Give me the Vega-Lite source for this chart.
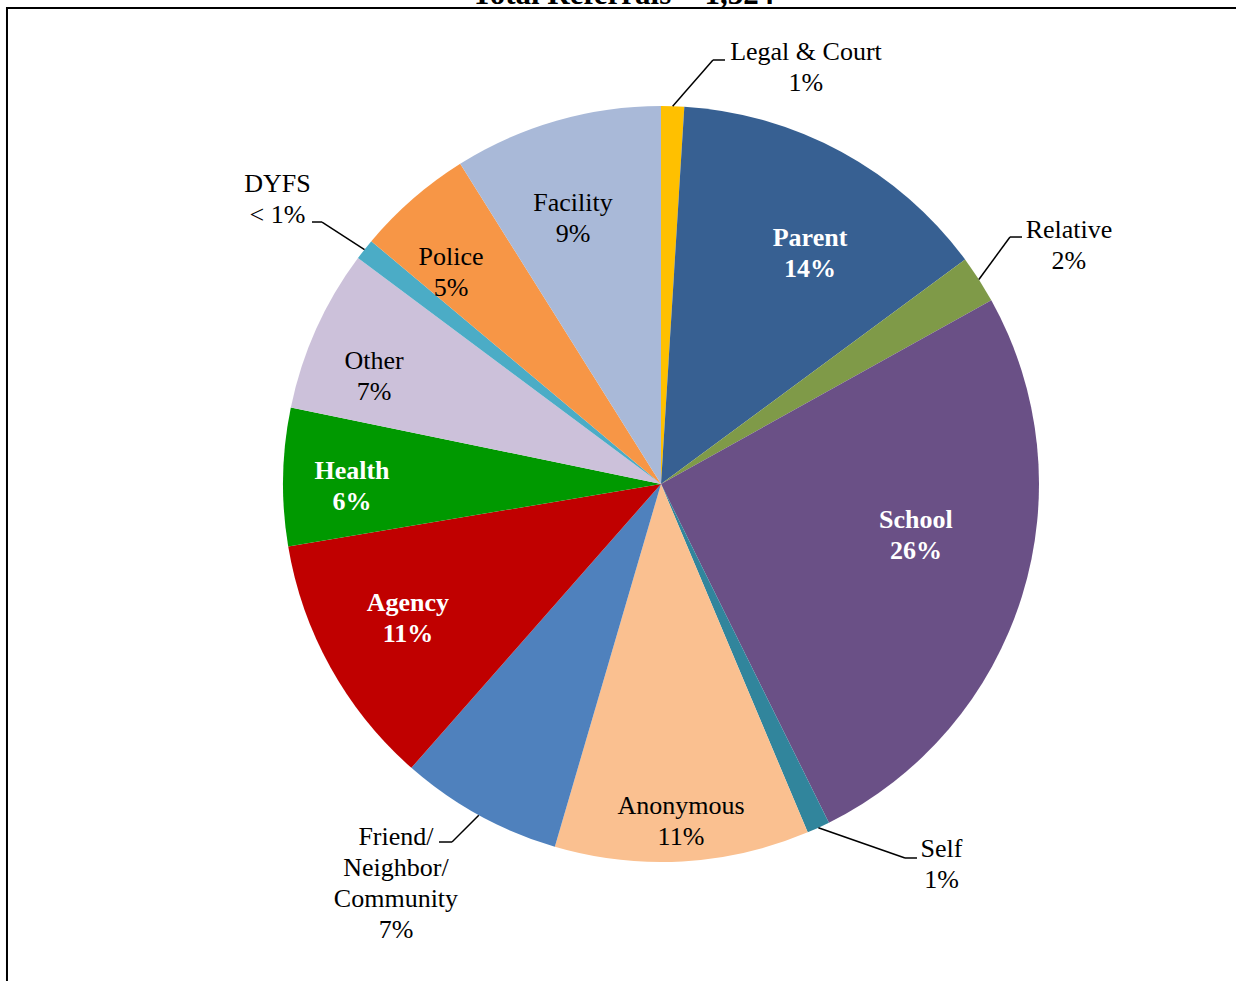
{
  "$schema": "https://vega.github.io/schema/vega-lite/v6.json",
  "width": 756,
  "height": 756,
  "autosize": {"type": "none"},
  "padding": {"left": 283, "top": 106, "right": 197, "bottom": 119},
  "background": "white",
  "config": {"view": {"stroke": null}},
  "layer": [
    {
      "data": {
        "values": [
          {"source": "Legal & Court", "count": 13, "pct": "1%"},
          {"source": "Parent", "count": 184, "pct": "14%"},
          {"source": "Relative", "count": 27, "pct": "2%"},
          {"source": "School", "count": 341, "pct": "26%"},
          {"source": "Self", "count": 13, "pct": "1%"},
          {"source": "Anonymous", "count": 144, "pct": "11%"},
          {"source": "Friend/Neighbor/Community", "count": 92, "pct": "7%"},
          {"source": "Agency", "count": 144, "pct": "11%"},
          {"source": "Health", "count": 78, "pct": "6%"},
          {"source": "Other", "count": 92, "pct": "7%"},
          {"source": "DYFS", "count": 12, "pct": "< 1%"},
          {"source": "Police", "count": 66, "pct": "5%"},
          {"source": "Facility", "count": 118, "pct": "9%"}
        ]
      },
      "transform": [
        {"window": [{"op": "row_number", "as": "idx"}]},
        {"joinaggregate": [{"op": "sum", "field": "count", "as": "total"}]},
        {"window": [{"op": "sum", "field": "count", "as": "cum"}], "sort": [{"field": "idx"}], "frame": [null, 0]},
        {"calculate": "(datum.cum - datum.count / 2) / datum.total * 2 * PI", "as": "mid"},
        {"calculate": "join(split(datum.source, '/'), '/\\n') + '\\n' + datum.pct", "as": "txt"},
        {"calculate": "length(split(datum.txt, '\\n'))", "as": "nl"},
        {"calculate": "[17.42, 4.33, 2.40, -5.74, -11.79, -0.12, 4.74, 1.02, -1.64, -3.75, -1.72, -3.68, -2.29][datum.idx - 1] * PI / 180", "as": "off"},
        {"calculate": "[1.1667, 0.7262, 1.2508, 0.6884, 1.2505, 0.8944, 1.2683, 0.7587, 0.8175, 0.8103, 1.2640, 0.7894, 0.7399][datum.idx - 1]", "as": "lr"},
        {"calculate": "datum.lr * sin(datum.mid + datum.off)", "as": "lx"},
        {"calculate": "datum.lr * cos(datum.mid + datum.off) + (datum.nl - 1) * 0.041", "as": "ly"},
        {"calculate": "sin(datum.mid)", "as": "sx"},
        {"calculate": "cos(datum.mid)", "as": "sy"},
        {"calculate": "[0.1376, null, 0.9233, null, 0.6455, null, -0.5529, null, null, null, -0.8968, null, null][datum.idx - 1]", "as": "ex"},
        {"calculate": "[1.1217, null, 0.6534, null, -0.9894, null, -0.9471, null, null, null, 0.6931, null, null][datum.idx - 1]", "as": "ey"},
        {"calculate": "[0.1693, null, 0.9550, null, 0.6772, null, -0.5873, null, null, null, -0.9233, null, null][datum.idx - 1]", "as": "fx"}
      ],
      "layer": [
        {
          "mark": {"type": "arc", "outerRadius": 378},
          "encoding": {
            "theta": {"field": "count", "type": "quantitative", "stack": true},
            "order": {"field": "idx", "type": "quantitative"},
            "color": {
              "field": "source",
              "type": "nominal",
              "legend": null,
              "scale": {
                "domain": ["Legal & Court", "Parent", "Relative", "School", "Self", "Anonymous", "Friend/Neighbor/Community", "Agency", "Health", "Other", "DYFS", "Police", "Facility"],
                "range": ["#FFC000", "#376092", "#7F9A48", "#6A5086", "#31859C", "#FAC090", "#4F81BD", "#C00000", "#009900", "#CCC1DA", "#4BACC6", "#F79646", "#A9B9D8"]
              }
            }
          }
        },
        {
          "transform": [{"filter": "datum.ex != null"}],
          "mark": {"type": "rule", "color": "black", "strokeWidth": 1.5},
          "encoding": {
            "x": {"field": "sx", "type": "quantitative", "scale": {"domain": [-1, 1], "nice": false, "zero": false}, "axis": null},
            "y": {"field": "sy", "type": "quantitative", "scale": {"domain": [-1, 1], "nice": false, "zero": false}, "axis": null},
            "x2": {"field": "ex"},
            "y2": {"field": "ey"}
          }
        },
        {
          "transform": [{"filter": "datum.ex != null"}],
          "mark": {"type": "rule", "color": "black", "strokeWidth": 1.5},
          "encoding": {
            "x": {"field": "ex", "type": "quantitative", "scale": {"domain": [-1, 1], "nice": false, "zero": false}, "axis": null},
            "y": {"field": "ey", "type": "quantitative", "scale": {"domain": [-1, 1], "nice": false, "zero": false}, "axis": null},
            "x2": {"field": "fx"}
          }
        },
        {
          "transform": [{"filter": "indexof(['Parent', 'School', 'Agency', 'Health'], datum.source) < 0"}],
          "mark": {"type": "text", "font": "Liberation Serif", "fontSize": 26, "lineBreak": "\n", "lineHeight": 31, "align": "center", "baseline": "middle", "color": "black"},
          "encoding": {
            "x": {"field": "lx", "type": "quantitative", "scale": {"domain": [-1, 1], "nice": false, "zero": false}, "axis": null},
            "y": {"field": "ly", "type": "quantitative", "scale": {"domain": [-1, 1], "nice": false, "zero": false}, "axis": null},
            "text": {"field": "txt"}
          }
        },
        {
          "transform": [{"filter": "indexof(['Parent', 'School', 'Agency', 'Health'], datum.source) >= 0"}],
          "mark": {"type": "text", "font": "Liberation Serif", "fontSize": 26, "fontWeight": "bold", "lineBreak": "\n", "lineHeight": 31, "align": "center", "baseline": "middle", "color": "white"},
          "encoding": {
            "x": {"field": "lx", "type": "quantitative", "scale": {"domain": [-1, 1], "nice": false, "zero": false}, "axis": null},
            "y": {"field": "ly", "type": "quantitative", "scale": {"domain": [-1, 1], "nice": false, "zero": false}, "axis": null},
            "text": {"field": "txt"}
          }
        }
      ]
    },
    {
      "data": {"values": [{"title": "Total Referrals = 1,324"}]},
      "layer": [
        {
          "mark": {"type": "rule", "color": "black", "strokeWidth": 2},
          "encoding": {
            "x": {"datum": -1.7302, "type": "quantitative", "scale": {"domain": [-1, 1], "nice": false, "zero": false}, "axis": null},
            "x2": {"datum": 1.6},
            "y": {"datum": 1.2593, "type": "quantitative", "scale": {"domain": [-1, 1], "nice": false, "zero": false}, "axis": null}
          }
        },
        {
          "mark": {"type": "rule", "color": "black", "strokeWidth": 2},
          "encoding": {
            "x": {"datum": -1.7302, "type": "quantitative", "scale": {"domain": [-1, 1], "nice": false, "zero": false}, "axis": null},
            "y": {"datum": 1.2619, "type": "quantitative", "scale": {"domain": [-1, 1], "nice": false, "zero": false}, "axis": null},
            "y2": {"datum": -1.4}
          }
        },
        {
          "mark": {"type": "text", "font": "Liberation Serif", "fontSize": 31, "fontWeight": "bold", "align": "center", "baseline": "alphabetic", "color": "black"},
          "encoding": {
            "x": {"datum": -0.1005, "type": "quantitative", "scale": {"domain": [-1, 1], "nice": false, "zero": false}, "axis": null},
            "y": {"datum": 1.2698, "type": "quantitative", "scale": {"domain": [-1, 1], "nice": false, "zero": false}, "axis": null},
            "text": {"field": "title"}
          }
        }
      ]
    }
  ]
}
